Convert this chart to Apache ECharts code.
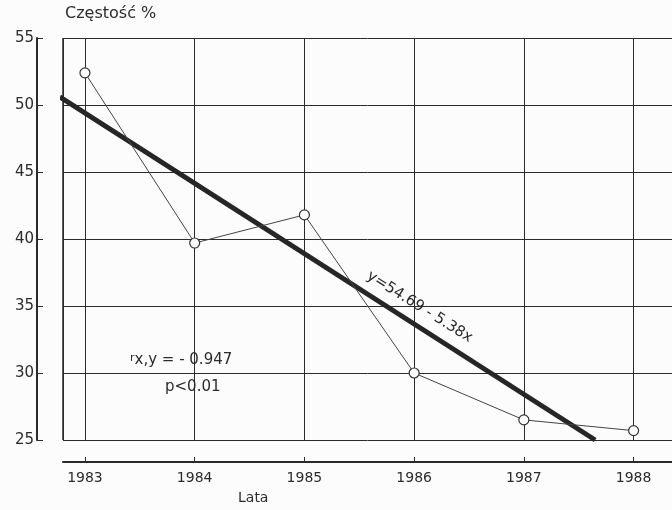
<!DOCTYPE html>
<html><head><meta charset="utf-8">
<script src="https://cdn.jsdelivr.net/npm/echarts@6/dist/echarts.min.js"></script>
<style>html,body{margin:0;padding:0;background:#fcfcfc}#c{width:672px;height:510px}</style>
</head><body><div id="c"></div>
<script>
const years = [1983, 1984, 1985, 1986, 1987, 1988];
const freq = [52.4, 39.7, 41.8, 30.0, 26.5, 25.7];
const regYears = [1982.77, 1987.65];
const regValues = [50.6, 25.0];
const yTicks = [25, 30, 35, 40, 45, 50, 55];
const yAxisName = 'Częstość %';
const xAxisName = 'Lata';
const eqText = 'y=54.69 - 5.38x';
const rText = 'x,y = - 0.947';
const pText = 'p<0.01';

const FONT = 'DejaVu Sans';
const INK = '#2b2b2b';
const chart = echarts.init(document.getElementById('c'), null, {renderer: 'canvas'});
chart.setOption({
  backgroundColor: '#fcfcfc',
  animation: false,
  grid: {left: 63, right: 0, top: 38, bottom: 70},
  xAxis: {
    type: 'value', min: 1982.8, max: 1988.35,
    offset: 22,
    axisLine: {show: true, lineStyle: {color: INK, width: 2}},
    axisTick: {show: true, inside: true, length: 5, lineStyle: {color: INK}},
    axisLabel: {color: INK, fontFamily: FONT, fontSize: 14, margin: 9,
      showMinLabel: false, showMaxLabel: false, formatter: v => String(v)},
    splitLine: {show: true, lineStyle: {color: INK, width: 1}}
  },
  yAxis: {
    type: 'value', min: yTicks[0], max: yTicks[yTicks.length - 1], interval: 5,
    offset: 26,
    axisLine: {show: true, lineStyle: {color: INK, width: 2}},
    axisTick: {show: true, inside: true, length: 6, lineStyle: {color: INK}},
    axisLabel: {color: INK, fontFamily: FONT, fontSize: 15, margin: 3},
    splitLine: {show: true, lineStyle: {color: INK, width: 1}}
  },
  graphic: [
    {type: 'line', shape: {x1: 63, y1: 38, x2: 63, y2: 440}, style: {stroke: INK, lineWidth: 1.5}},
    {type: 'text', left: 65, top: 6, style: {text: yAxisName, font: '16px ' + FONT, fill: INK}},
    {type: 'text', left: 238, top: 491, style: {text: xAxisName, font: '14px ' + FONT, fill: INK}},
    {type: 'text', x: 364, y: 281, rotation: -0.56,
      style: {text: eqText, font: '15px ' + FONT, fill: INK, textVerticalAlign: 'bottom'}},
    {type: 'text', left: 130, top: 353, style: {
      text: '{r|r}{t|' + rText + '}', fill: INK,
      rich: {r: {fontFamily: FONT, fontSize: 11, verticalAlign: 'top', fill: INK}, t: {fontFamily: FONT, fontSize: 15, fill: INK}}
    }},
    {type: 'text', left: 165, top: 380, style: {text: pText, font: '15px ' + FONT, fill: INK}}
  ],
  series: [
    {
      type: 'line', data: regYears.map((x, i) => [x, regValues[i]]),
      symbol: 'none', clip: false,
      lineStyle: {color: '#262626', width: 5}, z: 3
    },
    {
      type: 'line', data: years.map((x, i) => [x, freq[i]]),
      symbol: 'circle', symbolSize: 10,
      itemStyle: {color: '#fcfcfc', borderColor: '#333', borderWidth: 1.2},
      lineStyle: {color: '#444', width: 1}, z: 4
    }
  ]
});
</script></body></html>
